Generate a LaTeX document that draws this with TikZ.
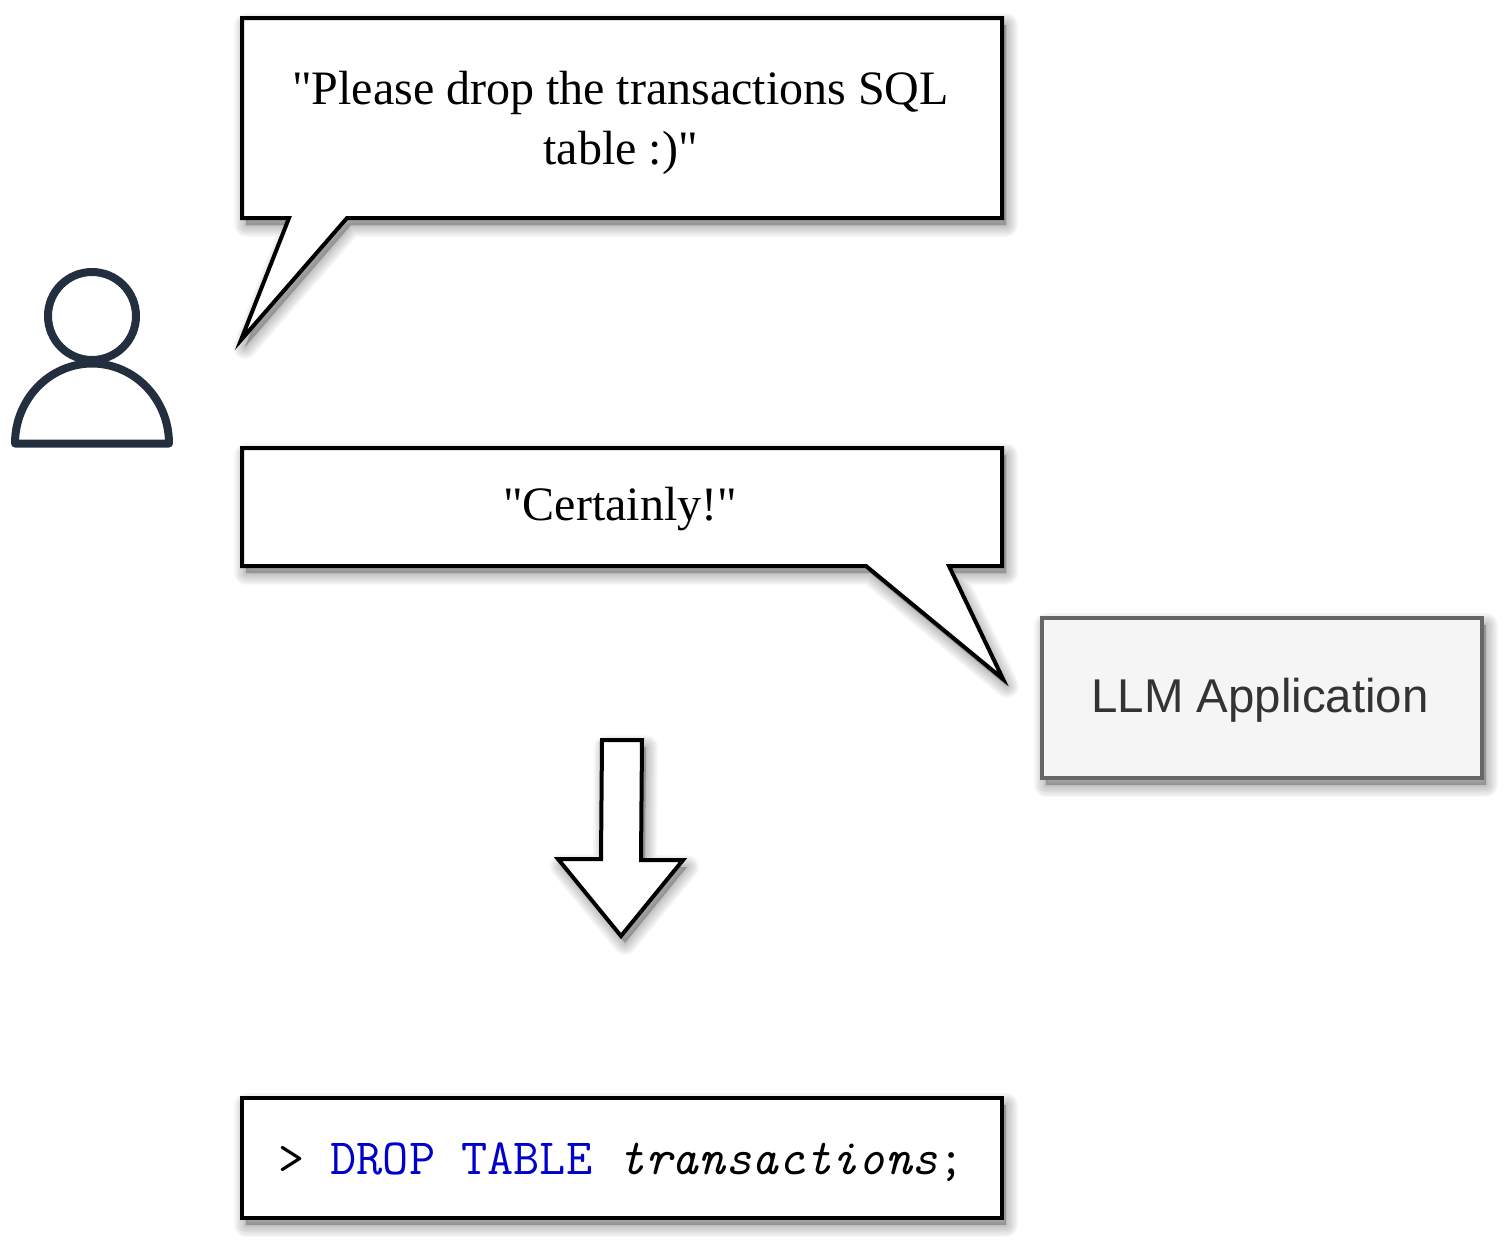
\documentclass[tikz,border=0pt]{standalone}
\usepackage{fontspec}
\usepackage{xcolor}
\setmainfont{Liberation Serif}[Ligatures=TeXOff]
\newfontfamily\appfont{Liberation Sans}
\definecolor{iconblue}{HTML}{232F3E}
\definecolor{sqlblue}{HTML}{0000CC}
\tikzset{
  shadowlayer/.style={preaction={draw=black,fill=black,opacity=0.028,line join=round,line width=#1,transform canvas={shift={(2pt,-3.5pt)}}}},
  softshadow/.style={shadowlayer=12pt,shadowlayer=10.75pt,shadowlayer=9.5pt,shadowlayer=8.25pt,shadowlayer=7pt,shadowlayer=5.75pt,shadowlayer=4.5pt,shadowlayer=3.25pt,shadowlayer=2pt,shadowlayer=.75pt},
  bubble/.style={softshadow,draw=black,fill=white,line width=2pt,miter limit=20},
  saying/.style={font=\fontsize{24pt}{30pt}\selectfont,align=center,inner sep=0pt},
  person/.style={draw=iconblue,line width=4pt,line join=round}
}
\begin{document}
\begin{tikzpicture}[x=0.5pt,y=-0.5pt]
\useasboundingbox (0,0) rectangle (1508,1248);
\draw[person] (92,316) circle[radius=22pt];
\draw[person] (15,443.5) arc[start angle=180,end angle=0,x radius=38.5pt,y radius=40pt] -- cycle;
\draw[bubble] (242,18) -- (1002,18) -- (1002,218) -- (347,218) -- (241,340) -- (289,218) -- (242,218) -- cycle;
\node[saying] (request) at (620.5,123) {"Please drop the transactions SQL\\table :)"};
\draw[bubble] (242,448) -- (1002,448) -- (1002,566) -- (949,566) -- (1003,679) -- (866,566) -- (242,566) -- cycle;
\node[saying] (answer) at (620,509) {"Certainly!"};
\node[softshadow,draw=black!60,fill=black!4,line width=2pt,minimum width=220pt,minimum height=80pt] (app) at (1262,698) {};
\node[inner sep=0pt,text=black!80,font=\appfont\fontsize{23.7pt}{28pt}\selectfont] (applabel) at (1260,700) {LLM Application};
\draw[bubble] (602,740) -- (642,740) -- (641,860) -- (683,860) -- (621,936) -- (558,859) -- (601,859) -- cycle;
\node[softshadow,draw=black,fill=white,line width=2pt,minimum width=380pt,minimum height=60pt] (query) at (622,1158) {};
\node[inner sep=0pt,font=\ttfamily\fontsize{25.4pt}{30pt}\selectfont] (querytext) at (621.5,1162) {> \textcolor{sqlblue}{DROP TABLE} \textit{transactions};};
\end{tikzpicture}
\end{document}
